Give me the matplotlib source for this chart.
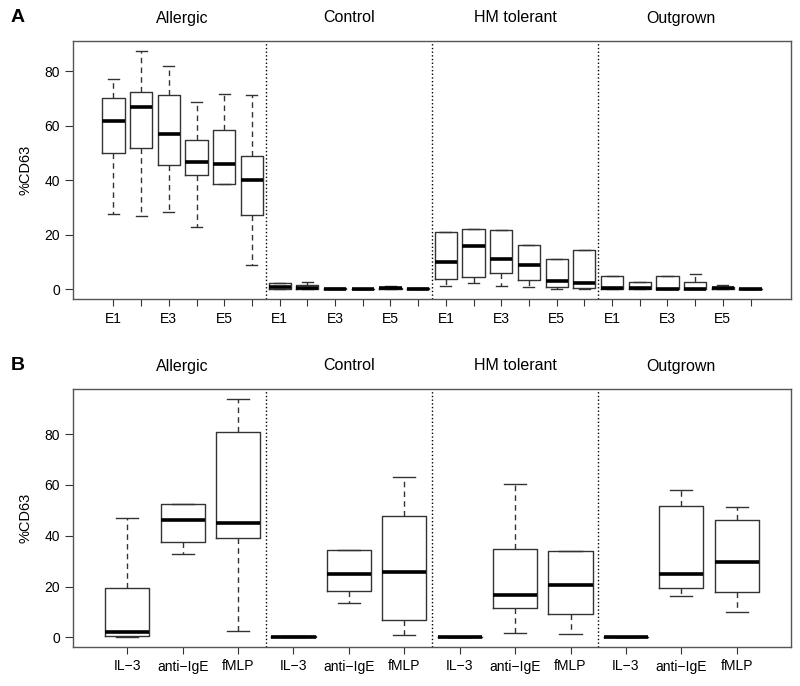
import matplotlib.pyplot as plt

plt.rcParams['font.family'] = ['Liberation Sans', 'DejaVu Sans']

groups = ["Allergic", "Control", "HM tolerant", "Outgrown"]

# Panel A: six epitopes per group (only odd ones labelled, like R does)
epitopes = ["E1", "E2", "E3", "E4", "E5", "E6"]
a_lo = [27.7, 27.0, 28.3, 22.7, 38.8, 8.8,
        0.0, 0.0, 0.1, 0.0, 0.1, 0.2,
        1.2, 2.2, 1.2, 0.8, 0.0, 0.0,
        0.0, 0.0, 0.0, 0.0, 0.1, 0.0]
a_q1 = [50.0, 51.7, 45.5, 42.0, 38.8, 27.3,
        0.2, 0.1, 0.1, 0.0, 0.1, 0.2,
        3.8, 4.5, 6.2, 3.3, 0.8, 0.4,
        0.0, 0.0, 0.0, 0.0, 0.1, 0.0]
a_med = [61.8, 66.8, 57.0, 46.5, 45.8, 40.0,
         1.0, 0.7, 0.2, 0.1, 0.4, 0.3,
         10.2, 15.9, 11.1, 9.1, 3.2, 2.4,
         0.7, 0.5, 0.2, 0.1, 0.5, 0.1]
a_q3 = [70.3, 72.4, 71.1, 54.9, 58.4, 49.0,
        2.2, 1.8, 0.4, 0.2, 0.7, 0.5,
        21.2, 22.0, 21.7, 16.3, 11.0, 14.3,
        4.9, 2.7, 5.1, 2.9, 0.8, 0.2]
a_hi = [77.0, 87.4, 82.0, 68.6, 71.5, 71.1,
        2.4, 2.6, 0.5, 0.3, 1.1, 0.6,
        21.2, 22.0, 21.7, 16.3, 11.0, 14.3,
        4.9, 2.7, 5.1, 5.7, 1.6, 0.3]

# Panel B: three stimuli per group
stimuli = ["IL\u22123", "anti\u2212IgE", "fMLP"]
b_lo = [0.0, 33.0, 2.5, 0.0, 13.5, 0.8, 0.0, 1.6, 1.2, 0.0, 16.3, 10.1]
b_q1 = [0.4, 37.6, 39.3, 0.0, 18.4, 6.8, 0.0, 11.7, 9.1, 0.0, 19.6, 17.9]
b_med = [2.0, 46.4, 45.0, 0.1, 24.8, 25.9, 0.0, 16.8, 20.5, 0.0, 25.1, 29.8]
b_q3 = [19.5, 52.5, 81.0, 0.4, 34.5, 47.7, 0.1, 34.8, 34.1, 0.1, 51.6, 46.1]
b_hi = [46.9, 52.5, 94.0, 0.5, 34.5, 63.3, 0.1, 60.3, 34.1, 0.1, 57.9, 51.4]

W, H = 800, 686
line_col = '#333333'


def draw_panel(ax, cats, shown, lo, q1, med, q3, hi, ylim):
    n = len(lo)
    k = len(cats)
    stats = [dict(whislo=lo[i], q1=q1[i], med=med[i], q3=q3[i], whishi=hi[i], fliers=[])
             for i in range(n)]
    pos = list(range(1, n + 1))
    ax.bxp(stats, positions=pos, widths=0.8, showfliers=False,
           boxprops=dict(color=line_col, lw=1),
           medianprops=dict(color='black', lw=2.6, solid_capstyle='butt'),
           whiskerprops=dict(color=line_col, lw=1, linestyle=(0, (4, 3))),
           capprops=dict(color=line_col, lw=1))
    pad = 0.04 * n
    ax.set_xlim(0.5 - pad, n + 0.5 + pad)
    ax.set_ylim(*ylim)
    ax.set_xticks(pos)
    ax.set_xticklabels(shown * len(groups))
    ax.set_yticks([0, 20, 40, 60, 80])
    ax.tick_params(axis='x', length=5, pad=4, labelsize=10, color=line_col)
    ax.tick_params(axis='y', length=5.5, pad=4, labelsize=10, color=line_col)
    for s in ax.spines.values():
        s.set_color('#555555')
        s.set_linewidth(1)
    for g in range(1, len(groups)):
        ax.axvline(g * k + 0.5, color='black', ls=':', lw=1)
    for g, name in enumerate(groups):
        ax.annotate(name, xy=(g * k + (k + 1) / 2, 1), xycoords=('data', 'axes fraction'),
                    xytext=(0, 23), textcoords='offset pixels',
                    ha='center', va='center', fontsize=11.5)
    ax.set_ylabel('%CD63', fontsize=10.5)
    ax.yaxis.set_label_coords(-(73 - 32) / 718, 0.5)


fig = plt.figure(figsize=(W / 100, H / 100), dpi=100)
axA = fig.add_axes([73 / W, 1 - 299 / H, 718 / W, 258 / H])
axB = fig.add_axes([73 / W, 1 - 647 / H, 718 / W, 258 / H])

shownA = [e if i % 2 == 0 else "" for i, e in enumerate(epitopes)]
draw_panel(axA, epitopes, shownA, a_lo, a_q1, a_med, a_q3, a_hi, (-3.5, 91))
draw_panel(axB, stimuli, stimuli, b_lo, b_q1, b_med, b_q3, b_hi, (-3.76, 97.76))

fig.text(18 / W, 1 - 18 / H, 'A', fontsize=14, fontweight='bold', ha='center', va='center')
fig.text(18 / W, 1 - 366 / H, 'B', fontsize=14, fontweight='bold', ha='center', va='center')

fig.savefig('out.png', dpi=100)
